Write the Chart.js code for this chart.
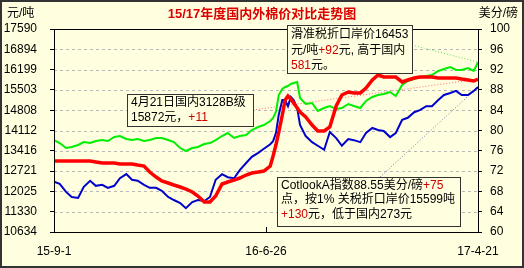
<!DOCTYPE html>
<html>
<head>
<meta charset="utf-8">
<script src="https://cdn.jsdelivr.net/npm/chart.js@4.4.1/dist/chart.umd.min.js"></script>
<style>
  body { margin: 0; background: #ffffe0; }
  canvas { display: block; }
</style>
</head>
<body>
<canvas id="chart" width="524" height="268"></canvas>
<script>
// day offsets from 2015-09-01
const days = [0,8,17,25,34,42,51,59,68,76,85,93,102,110,118,127,135,144,152,161,169,178,186,195,203,212,220,228,237,245,254,262,271,279,288,296,305,309,313,317,322,326,330,334,338,343,347,355,364,372,381,389,398,406,415,423,432,440,449,457,465,474,482,491,499,508,516,525,533,542,550,559,567,575,584,592,598];

// 滑准税折口岸价 (元/吨)
const importPrice = [13786,13683,13512,13546,13615,13717,13683,13752,13786,13752,
  13889,13923,13820,13786,13820,13752,13786,13855,13855,13786,
  13717,13512,13409,13512,13546,13649,13683,13786,13923,14026,
  13855,13923,13957,14129,14232,14300,14437,
  14540,14746,15328,15534,15602,15637,15705,15739,15774,15225,
  15020,15054,14780,14883,14951,14848,14883,15020,14951,14883,
  15123,15260,15328,15362,15431,15294,15671,15808,15876,15945,
  15979,16014,16151,16219,16288,16185,16185,16253,16151,16453];

// 国内3128B (元/吨)
const domestic = [13066,13066,13066,13066,13066,13066,13066,13032,12998,12998,
  12998,12964,12964,12964,12929,12895,12689,12518,12381,12312,
  12244,12175,12107,12004,11867,11661,11661,11867,12278,12347,
  12415,12484,12587,12655,12689,12724,12895,
  13238,13615,14060,14643,15157,15294,15191,15054,14883,14746,
  14574,14300,14094,14094,14232,14951,15328,15431,15397,15397,
  15568,15842,16014,15945,15945,15945,15774,15842,15911,15945,
  15945,15945,15911,15911,15911,15911,15876,15842,15808,15872];

// Cotlook A (美分/磅)
const cotlookA = [69.9,69.5,67.9,66.9,66.7,68.9,70.1,69.1,69.3,68.7,
  69.1,70.6,71.4,70.3,70.1,69.3,68.7,68.7,68.1,66.9,
  66.3,65.7,64.7,65.9,66.3,66.1,66.9,70.3,71.4,70.8,
  70.6,72.2,73.6,74.8,75.6,76.4,77.3,
  77.9,79.5,83.1,86.0,86.0,84.8,86.6,86.0,84.4,81.1,
  78.9,77.7,77.0,76.2,79.7,78.5,77.0,78.3,78.1,77.7,
  79.5,80.5,80.1,79.9,78.7,79.5,82.1,82.5,83.6,84.0,
  84.8,84.8,86.0,87.0,87.4,87.8,87.0,87.0,87.8,88.55];

const leftTicks = [10634,11330,12025,12721,13416,14112,14808,15503,16199,16894,17590];
const rightTicks = [60,64,68,72,76,80,84,88,92,96,100];
const xTickDays = [0, 299, 598];
const xTickLabels = ['15-9-1', '16-6-26', '17-4-21'];

const FONT = '"Liberation Sans", "Noto Sans CJK SC", sans-serif';
const RED_TXT = '#cc0000';

// annotation boxes: rect, text lines, connector start, dataset index
const notes = [
  { x: 287, y: 25, w: 125, h: 48, ys: [35, 51, 66], ds: 1, from: [412, 45], color: '#66dd66',
    lines: [
      [['滑准税折口岸价16453', '#000']],
      [['元/吨', '#000'], ['+92', RED_TXT], ['元, 高于国内', '#000']],
      [['581', RED_TXT], ['元。', '#000']]
    ] },
  { x: 127, y: 94, w: 126, h: 32, ys: [103, 118], ds: 0, from: [253, 110], color: '#ff7070',
    lines: [
      [['4月21日国内3128B级', '#000']],
      [['15872元，', '#000'], ['+11', RED_TXT]]
    ] },
  { x: 277, y: 177, w: 183, h: 49, ys: [186, 200, 215], ds: 2, from: [380, 177], color: '#7777aa',
    lines: [
      [['CotlookA指数88.55美分/磅', '#000'], ['+75', RED_TXT]],
      [['点，按1% 关税折口岸价15599吨', '#000']],
      [['+130', RED_TXT], ['元，低于国内273元', '#000']]
    ] }
];

const decor = {
  id: 'decor',
  beforeDraw(chart) {
    const ctx = chart.ctx;
    ctx.save();
    ctx.fillStyle = '#ffffe0';
    ctx.fillRect(0, 0, chart.width, chart.height);
    ctx.restore();
  },
  beforeDatasetsDraw(chart) {
    const ctx = chart.ctx;
    const a = chart.chartArea;
    const ys = chart.scales.y;
    ctx.save();
    // dashed grid
    ctx.strokeStyle = '#b8b8b8';
    ctx.lineWidth = 1;
    ctx.setLineDash([3, 3]);
    leftTicks.forEach(v => {
      const py = Math.round(ys.getPixelForValue(v)) + 0.5;
      ctx.beginPath();
      ctx.moveTo(a.left, py);
      ctx.lineTo(a.right, py);
      ctx.stroke();
    });
    // connectors
    ctx.setLineDash([1, 2]);
    notes.forEach(n => {
      const pts = chart.getDatasetMeta(n.ds).data;
      const end = pts[pts.length - 1];
      ctx.strokeStyle = n.color;
      ctx.beginPath();
      ctx.moveTo(n.from[0], n.from[1]);
      ctx.lineTo(end.x, end.y);
      ctx.stroke();
    });
    ctx.restore();
  },
  afterDraw(chart) {
    const ctx = chart.ctx;
    const a = chart.chartArea;
    ctx.save();
    // plot frame
    ctx.strokeStyle = '#000';
    ctx.lineWidth = 1;
    ctx.strokeRect(Math.round(a.left) + 0.5, Math.round(a.top) + 0.5, Math.round(a.right - a.left), Math.round(a.bottom - a.top));
    const mx = Math.round(chart.scales.x.getPixelForValue(xTickDays[1])) + 0.5;
    ctx.beginPath();
    ctx.moveTo(mx, a.bottom);
    ctx.lineTo(mx, a.bottom - 5);
    ctx.stroke();

    // boxes
    ctx.font = '12px ' + FONT;
    ctx.textBaseline = 'middle';
    notes.forEach(n => {
      ctx.fillStyle = '#ffffe0';
      ctx.fillRect(n.x, n.y, n.w, n.h);
      ctx.strokeStyle = '#333';
      ctx.strokeRect(n.x + 0.5, n.y + 0.5, n.w, n.h);
      n.lines.forEach((runs, i) => {
        let tx = n.x + 4;
        runs.forEach(([t, c]) => {
          ctx.fillStyle = c;
          ctx.fillText(t, tx, n.ys[i]);
          tx += ctx.measureText(t).width;
        });
      });
    });

    // title and units
    ctx.fillStyle = '#dd0000';
    ctx.font = 'bold 13px ' + FONT;
    ctx.textAlign = 'center';
    ctx.fillText('15/17年度国内外棉价对比走势图', 262, 14);
    ctx.fillStyle = '#000';
    ctx.font = '12px ' + FONT;
    ctx.textAlign = 'left';
    ctx.fillText('元/吨', 7, 14);
    ctx.textAlign = 'right';
    ctx.fillText('美分/磅', 518, 14);

    // outer border
    ctx.lineWidth = 2;
    ctx.strokeRect(1, 1, chart.width - 2, chart.height - 2);
    ctx.restore();
  }
};

const toXY = arr => arr.map((v, i) => ({ x: days[i], y: v }));

new Chart(document.getElementById('chart'), {
  type: 'line',
  data: {
    datasets: [
      { label: '国内3128B', data: toXY(domestic), borderColor: '#ff0000', borderWidth: 3.5, yAxisID: 'y' },
      { label: '滑准税折口岸价', data: toXY(importPrice), borderColor: '#00ee00', borderWidth: 2, yAxisID: 'y' },
      { label: 'CotlookA', data: toXY(cotlookA), borderColor: '#0000cc', borderWidth: 2, yAxisID: 'y1' }
    ]
  },
  options: {
    responsive: false,
    animation: false,
    devicePixelRatio: 1,
    layout: { padding: { top: 29, left: 0, right: 0, bottom: 0 } },
    elements: { point: { radius: 0 }, line: { tension: 0 } },
    plugins: { legend: { display: false }, tooltip: { enabled: false }, title: { display: false } },
    scales: {
      x: {
        type: 'linear', min: 0, max: 598,
        afterBuildTicks: ax => { ax.ticks = xTickDays.map(v => ({ value: v })); },
        afterFit: ax => { ax.height = 36; },
        grid: { display: false },
        border: { display: false },
        ticks: {
          autoSkip: false, maxRotation: 0, padding: 4, color: '#000',
          font: { family: FONT, size: 12 },
          callback: v => xTickLabels[xTickDays.indexOf(v)]
        }
      },
      y: {
        position: 'left', min: 10634, max: 17590,
        afterBuildTicks: ax => { ax.ticks = leftTicks.map(v => ({ value: v })); },
        afterFit: ax => { ax.width = 54; },
        grid: { drawOnChartArea: false, tickColor: '#000', tickLength: 4, drawTicks: true },
        border: { display: false },
        ticks: { padding: 13, color: '#000', font: { family: FONT, size: 12 }, callback: v => String(v) }
      },
      y1: {
        position: 'right', min: 60, max: 100,
        afterBuildTicks: ax => { ax.ticks = rightTicks.map(v => ({ value: v })); },
        afterFit: ax => { ax.width = 46; },
        grid: { drawOnChartArea: false, tickColor: '#000', tickLength: 4 },
        border: { display: false },
        ticks: { padding: 8, color: '#000', font: { family: FONT, size: 12 }, callback: v => String(v) }
      }
    }
  },
  plugins: [decor]
});
</script>
</body>
</html>
